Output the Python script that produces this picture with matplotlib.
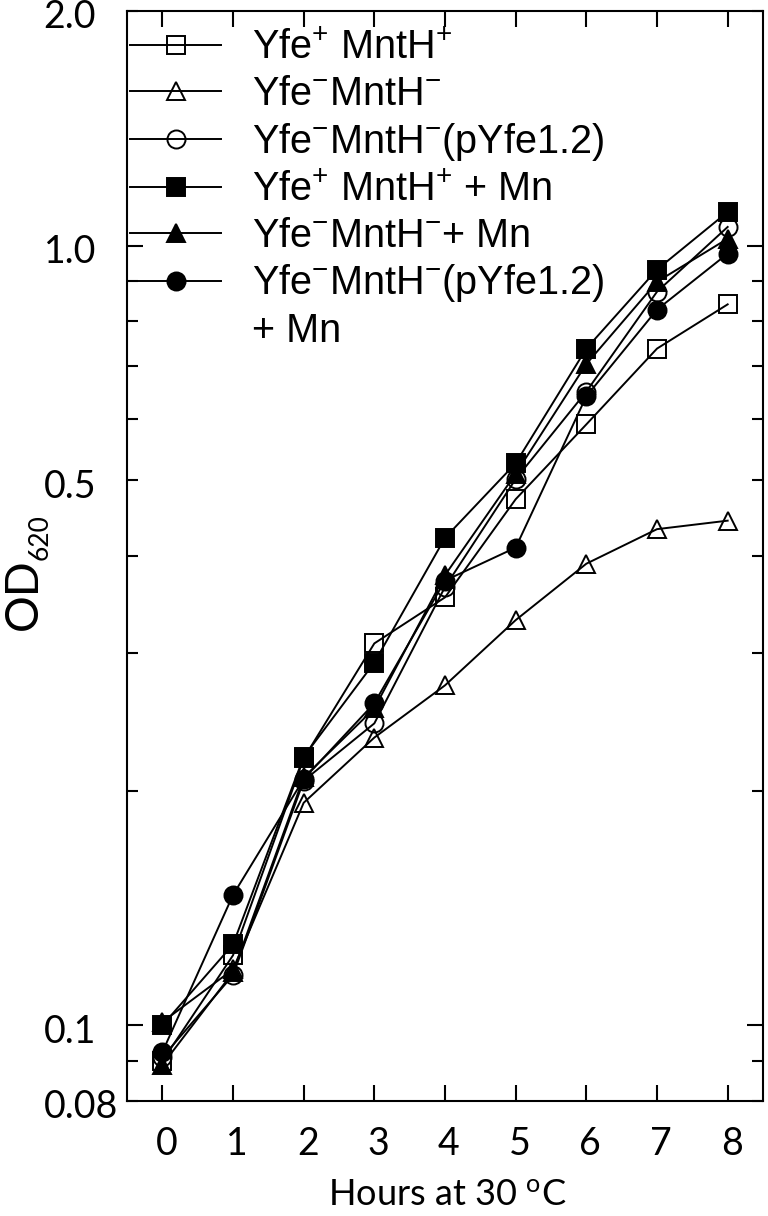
import matplotlib
matplotlib.use('Agg')
import matplotlib.pyplot as plt
import matplotlib.transforms as mtransforms
from matplotlib.lines import Line2D

# ---- data ----
hours = [0, 1, 2, 3, 4, 5, 6, 7, 8]
od_wt = [0.090, 0.123, 0.220, 0.309, 0.354, 0.473, 0.590, 0.738, 0.841]
od_ko = [0.101, 0.118, 0.193, 0.234, 0.273, 0.331, 0.391, 0.433, 0.444]
od_ko_p = [0.091, 0.116, 0.206, 0.244, 0.365, 0.502, 0.650, 0.873, 1.057]
od_wt_mn = [0.100, 0.127, 0.221, 0.292, 0.422, 0.526, 0.738, 0.932, 1.105]
od_ko_mn = [0.089, 0.117, 0.208, 0.255, 0.378, 0.510, 0.705, 0.899, 1.021]
od_ko_p_mn = [0.0924, 0.147, 0.207, 0.259, 0.372, 0.410, 0.641, 0.828, 0.977]

labels = [
    r'Yfe$\mathregular{^{+}}$ MntH$\mathregular{^{+}}$',
    r'Yfe$\mathregular{^{-}}$MntH$\mathregular{^{-}}$',
    r'Yfe$\mathregular{^{-}}$MntH$\mathregular{^{-}}$(pYfe1.2)',
    r'Yfe$\mathregular{^{+}}$ MntH$\mathregular{^{+}}$ + Mn',
    r'Yfe$\mathregular{^{-}}$MntH$\mathregular{^{-}}$+ Mn',
    r'Yfe$\mathregular{^{-}}$MntH$\mathregular{^{-}}$(pYfe1.2)',
]
extra_label = '+ Mn'
series = [od_wt, od_ko, od_ko_p, od_wt_mn, od_ko_mn, od_ko_p_mn]
markers = ['s', '^', 'o', 's', '^', 'o']
filled = [False, False, False, True, True, True]

y_major = [0.1, 1.0]
y_major_labels = ['0.1', '1.0']
y_minor = [0.08, 0.09, 0.2, 0.3, 0.4, 0.5, 0.6, 0.7, 0.8, 0.9, 2.0]
y_minor_labels = ['0.08', '', '', '', '', '0.5', '', '', '', '', '2.0']

TICK_FONT = 'Lato'
LEG_FONT = 'Liberation Sans'

fig = plt.figure(figsize=(7.68, 12.16), dpi=100)
W, H = 768, 1216
ax_l, ax_r, ax_t, ax_b = 127, 763, 11, 1101
ax = fig.add_axes([ax_l / W, 1 - ax_b / H, (ax_r - ax_l) / W, (ax_b - ax_t) / H])

handles = []
for vals, m, f, lab in zip(series, markers, filled, labels):
    (ln,) = ax.plot(hours, vals, color='black', lw=1.4, marker=m, ms=13,
                    mfc='black' if f else 'none', mec='black', mew=1.4,
                    label=lab)
    handles.append(ln)
blank = Line2D([], [], linestyle='none', marker='none')
handles.append(blank)
all_labels = labels + [extra_label]

ax.set_yscale('log')
ax.set_ylim(0.08, 2.0)
ax.set_xlim(-0.5, 8.5)
ax.set_xticks(hours, labels=[str(h) for h in hours])
ax.set_yticks(y_major, labels=y_major_labels)
ax.set_yticks(y_minor, labels=y_minor_labels, minor=True)

for sp in ax.spines.values():
    sp.set_linewidth(1.5)

ax.tick_params(axis='x', which='major', direction='in', length=11.5, width=1.5,
               top=True, pad=18, labelsize=27)
ax.tick_params(axis='y', which='major', direction='in', length=11.5, width=1.5,
               right=True, pad=60, labelsize=27)
ax.tick_params(axis='y', which='minor', direction='in', length=8, width=1.5,
               right=True, pad=60, labelsize=27)

dx = mtransforms.ScaledTranslation(4 / 100, 0, fig.dpi_scale_trans)
for t in ax.get_xticklabels():
    t.set_fontfamily(TICK_FONT)
    t.set_transform(t.get_transform() + dx)
dy = mtransforms.ScaledTranslation(0, -3 / 100, fig.dpi_scale_trans)
for t in ax.get_yticklabels() + ax.get_yticklabels(minor=True):
    t.set_fontfamily(TICK_FONT)
    t.set_horizontalalignment('left')
    t.set_transform(t.get_transform() + dy)

leg = ax.legend(handles, all_labels, loc='upper left',
                bbox_to_anchor=((3 - 10) / (ax_r - ax_l), 1.0 - 8 / (ax_b - ax_t)),
                frameon=False, numpoints=1, handlelength=2.31, handletextpad=0.78,
                borderpad=0.25, borderaxespad=0, labelspacing=0.2,
                prop={'family': LEG_FONT, 'size': 28.5})

# axis labels
fig.text(37 / W, 1 - 594 / H, 'OD', rotation=90, rotation_mode='anchor',
         ha='center', va='baseline', fontsize=33, family=TICK_FONT)
fig.text(48 / W, 1 - 537 / H, '620', rotation=90, rotation_mode='anchor',
         ha='center', va='baseline', fontsize=19, family=TICK_FONT)
fig.text(447 / W, 1 - 1206 / H, r'Hours at 30 $\mathregular{^{o}}$C',
         ha='center', va='baseline', fontsize=26, family=TICK_FONT)

fig.savefig('out.png', dpi=100)
